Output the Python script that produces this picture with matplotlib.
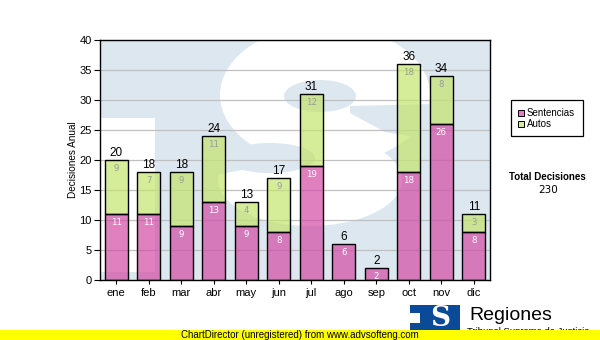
import matplotlib
matplotlib.use("Agg")
import matplotlib.pyplot as plt
from matplotlib.patches import Rectangle, Ellipse, Polygon

# Monthly decisions
months = ["ene", "feb", "mar", "abr", "may", "jun", "jul", "ago", "sep", "oct", "nov", "dic"]
sentencias = [11, 11, 9, 13, 9, 8, 19, 6, 2, 18, 26, 8]
autos = [9, 7, 9, 11, 4, 9, 12, 0, 0, 18, 8, 3]
y_ticks = [0, 5, 10, 15, 20, 25, 30, 35, 40]
series_names = ["Sentencias", "Autos"]

totals = [s + a for s, a in zip(sentencias, autos)]
grand_total = sum(totals)

W, H = 600, 340
PINK = (211 / 255, 74 / 255, 165 / 255)
GREEN = (196 / 255, 228 / 255, 109 / 255)
ALPHA = 0.7
WM_BLUE = "#dde7f0"
FONT = "Liberation Sans"

fig = plt.figure(figsize=(W / 100, H / 100), dpi=100)
fig.patch.set_facecolor("white")

# plot area: x 100..490 px, y 40..280 px
L, R, T, B = 100, 490, 40, 280
ax = fig.add_axes([L / W, 1 - B / H, (R - L) / W, (B - T) / H])
ax.set_facecolor(WM_BLUE)


def pa(x, y):
    """pixel position -> axes fraction"""
    return ((x - L) / (R - L), (B - y) / (B - T))


def ell(cx, cy, hw, hh, color, z):
    e = Ellipse(pa(cx, cy), 2 * hw / (R - L), 2 * hh / (B - T), transform=ax.transAxes,
                facecolor=color, edgecolor="none", zorder=z)
    ax.add_patch(e)


def poly(pts, color, z):
    p = Polygon([pa(x, y) for x, y in pts], closed=True, transform=ax.transAxes,
                facecolor=color, edgecolor="none", zorder=z)
    ax.add_patch(p)


# background logo watermark
poly([(100, 118), (155, 118), (155, 272), (100, 272)], "white", 0.1)
ell(325, 95, 105, 70, "white", 0.1)
ell(310, 180, 92, 46, "white", 0.1)
ell(320, 96, 36, 16, WM_BLUE, 0.2)
poly([(350, 106), (432, 104), (432, 140), (385, 132), (350, 113)], WM_BLUE, 0.2)
ell(270, 158, 45, 15, WM_BLUE, 0.2)
poly([(200, 148), (262, 150), (262, 166), (200, 178)], WM_BLUE, 0.2)

x = list(range(len(months)))
ax.bar(x, sentencias, width=0.7, color=PINK, alpha=ALPHA, edgecolor="none", zorder=2)
ax.bar(x, autos, width=0.7, bottom=sentencias, color=GREEN, alpha=ALPHA, edgecolor="none", zorder=2)
ax.bar(x, sentencias, width=0.7, fill=False, edgecolor="black", linewidth=1.0, zorder=3)
has_autos = [i for i in x if autos[i] > 0]
ax.bar(has_autos, [autos[i] for i in has_autos], width=0.7,
       bottom=[sentencias[i] for i in has_autos], fill=False,
       edgecolor="black", linewidth=1.0, zorder=3)

for i in x:
    ax.annotate(str(totals[i]), (i, totals[i]), xytext=(0, 1), textcoords="offset points",
                ha="center", va="bottom", fontsize=8.5, family=FONT, color="black", zorder=4)
    ax.annotate(str(sentencias[i]), (i, sentencias[i]), xytext=(0, -3), textcoords="offset points",
                ha="center", va="top", fontsize=6.2, family="DejaVu Sans", color="white", zorder=4)
    if autos[i] > 0:
        ax.annotate(str(autos[i]), (i, totals[i]), xytext=(0, -3), textcoords="offset points",
                    ha="center", va="top", fontsize=6.2, family="DejaVu Sans", color="#9a9a9a", zorder=4)

ax.set_xlim(-0.5, len(months) - 0.5)
ax.set_ylim(0, 40)
ax.set_yticks(y_ticks)
ax.set_yticklabels([str(v) for v in y_ticks], family=FONT, fontsize=8)
ax.set_xticks(x)
ax.set_xticklabels(months, family=FONT, fontsize=8)
ax.tick_params(axis="y", length=4, width=0.8, pad=2)
ax.tick_params(axis="x", length=3, width=0.8, pad=3)
ax.yaxis.grid(True, color="#c0c0c0", linewidth=0.9, zorder=0.5)
ax.set_axisbelow(True)
for s in ax.spines.values():
    s.set_color("black")
    s.set_linewidth(1.0)
ax.set_ylabel("Decisiones Anual", family=FONT, fontsize=7.2, labelpad=1)


def pf(x, y):
    return (x / W, 1 - y / H)


# legend box
fig.patches.append(Rectangle(pf(511, 136), 72 / W, 36 / H, transform=fig.transFigure,
                             facecolor="white", edgecolor="black", linewidth=0.9))
for k, (name, col) in enumerate(zip(series_names, [PINK, GREEN])):
    yc = 113 + 11 * k
    shown = tuple(ALPHA * c + (1 - ALPHA) for c in col)
    fig.patches.append(Rectangle(pf(518, yc + 3), 6 / W, 6 / H, transform=fig.transFigure,
                                 facecolor=shown, edgecolor="black", linewidth=0.7))
    fig.text(*pf(527, yc), name, family=FONT, fontsize=7, ha="left", va="center")

fig.text(*pf(547, 177), "Total Decisiones", family=FONT, fontweight="bold", fontsize=7,
         ha="center", va="center")
fig.text(*pf(548, 190), str(grand_total), family="DejaVu Sans", fontsize=7.5,
         ha="center", va="center")

# logo
fig.patches.append(Rectangle(pf(410, 340), 50 / W, 35 / H, transform=fig.transFigure,
                             facecolor="#0b4a96", edgecolor="none"))
fig.patches.append(Rectangle(pf(410, 323), 10 / W, 10 / H, transform=fig.transFigure,
                             facecolor="white", edgecolor="none"))
fig.text(*pf(440, 318), "S", family="DejaVu Serif", fontweight="bold", fontsize=20,
         color="white", ha="center", va="center")
fig.text(*pf(469, 316), "Regiones", family=FONT, fontsize=14, ha="left", va="center")
fig.text(*pf(467, 332), "Tribunal Supremo de Justicia", family=FONT, fontsize=6.8,
         ha="left", va="center")

# footer strip
fig.patches.append(Rectangle((0, 0), 1, 10 / H, transform=fig.transFigure,
                             facecolor="#ffff00", edgecolor="none", zorder=5))
fig.text(0.5, 1 - 335 / H, "ChartDirector (unregistered) from www.advsofteng.com",
         family=FONT, fontsize=7, ha="center", va="center", zorder=6)

fig.savefig("out.png", dpi=100)
